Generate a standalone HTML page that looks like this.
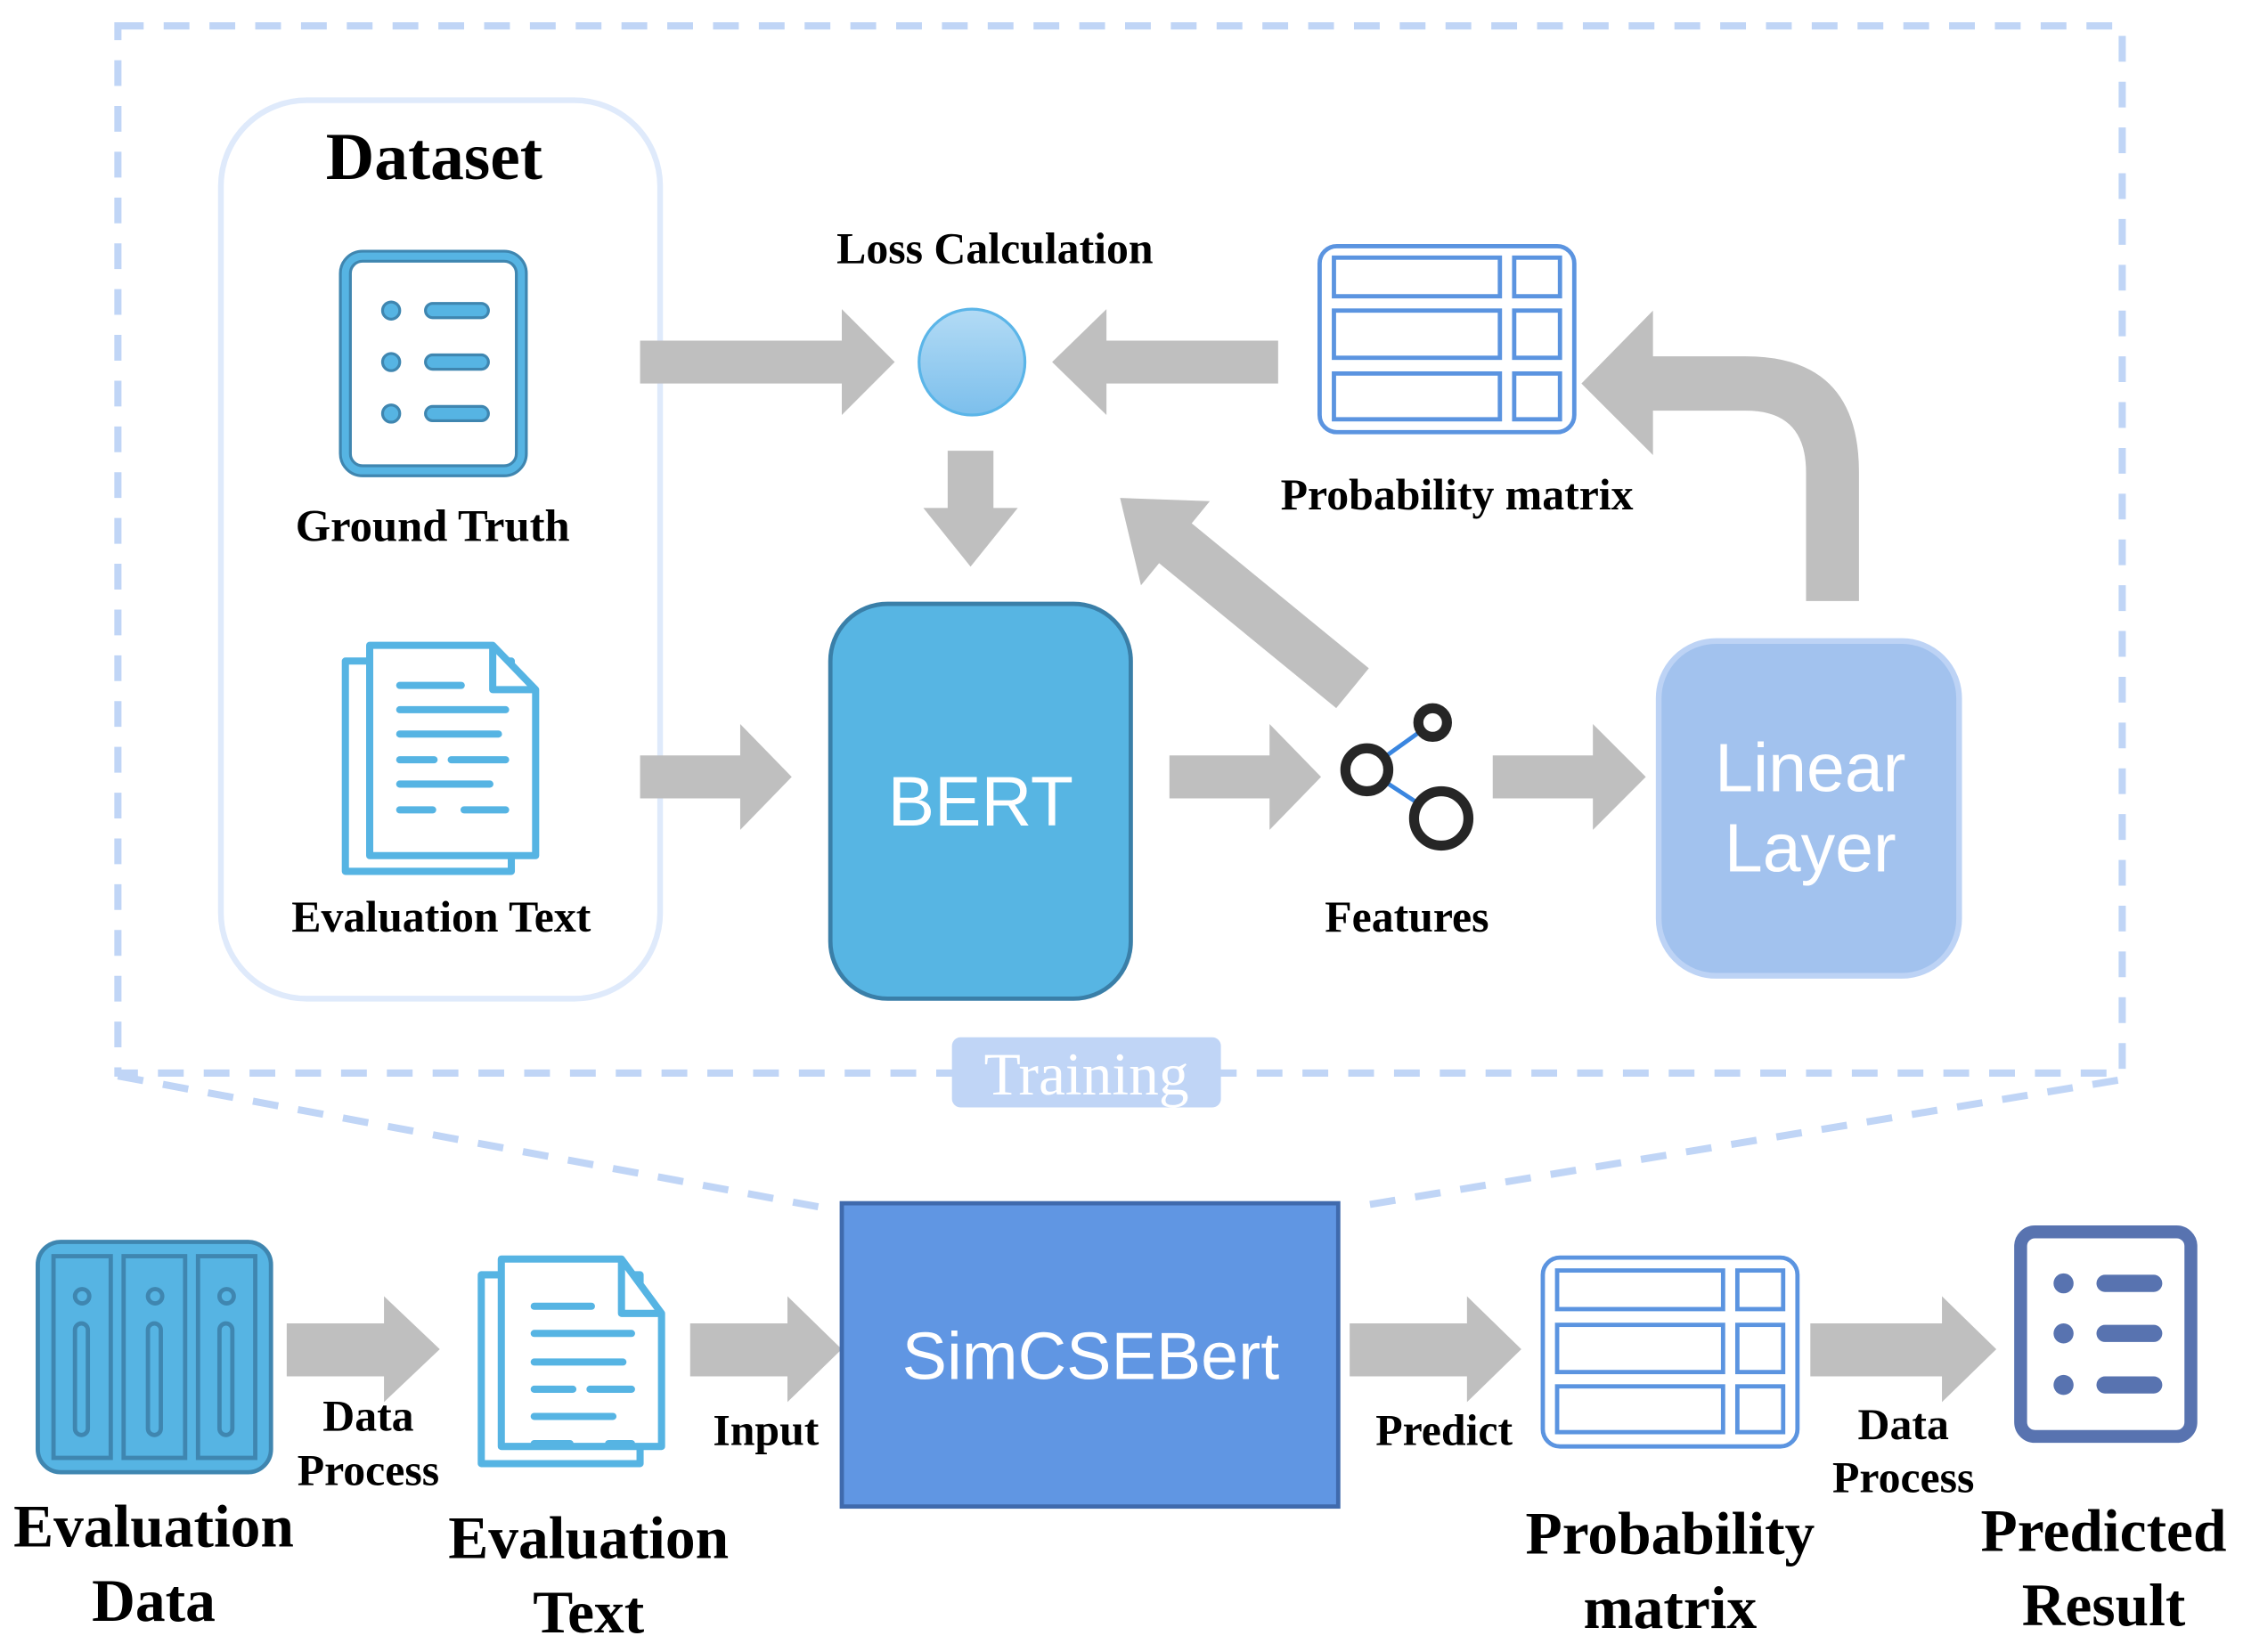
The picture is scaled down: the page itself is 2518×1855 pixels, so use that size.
<!DOCTYPE html>
<html><head><meta charset="utf-8"><style>
html,body{margin:0;padding:0;background:#fff;}
svg{display:block;}
.t{font-family:"Liberation Serif",serif;font-weight:bold;fill:#000;text-anchor:middle;}
.s{font-family:"Liberation Sans",sans-serif;fill:#fff;text-anchor:middle;}
</style></head><body>
<svg width="2518" height="1855" viewBox="0 0 1560 1149" preserveAspectRatio="none" xmlns="http://www.w3.org/2000/svg">
<defs>
<linearGradient id="g" x1="0" y1="0" x2="0" y2="1"><stop offset="0" stop-color="#b3dbf5"/><stop offset="1" stop-color="#7cbfec"/></linearGradient>
</defs>
<g transform="translate(82,18) scale(0.995) translate(-82,-18)">
<g fill="none" stroke="#c0d5f6" stroke-width="5" stroke-dasharray="18 14">
<rect x="82" y="18" width="1401" height="732"/>
<line x1="82" y1="752" x2="585" y2="846"/>
<line x1="1480" y1="755" x2="950" y2="843"/>
</g>
<rect x="154" y="70" width="307" height="628" rx="60" fill="#fff" stroke="#dfeafb" stroke-width="4"/>
<text class="t" x="303" y="125" font-size="47">Dataset</text>
<rect x="241" y="179" width="123" height="150" rx="12" fill="#fff" stroke="#3f86b0" stroke-width="9"/>
<rect x="241" y="179" width="123" height="150" rx="12" fill="none" stroke="#56b4e3" stroke-width="5"/>
<g fill="#56b4e3" stroke="#3f86b0" stroke-width="2">
<circle cx="273" cy="217" r="6"/><circle cx="273" cy="253" r="6"/><circle cx="273" cy="289" r="6"/>
<rect x="297" y="212" width="44" height="10" rx="5"/><rect x="297" y="248" width="44" height="10" rx="5"/><rect x="297" y="284" width="44" height="10" rx="5"/>
</g>
<text class="t" x="302" y="378" font-size="31.5">Ground Truth</text>
<g fill="#fff" stroke="#56b4e3" stroke-width="5" stroke-linejoin="round">
<rect x="241" y="462" width="116" height="147"/>
<path d="M258 451 H344 L374 482 V598 H258 Z"/>
<path d="M344 451 V482 H374" fill="none"/>
</g>
<g stroke="#56b4e3" stroke-width="5" stroke-linecap="round">
<line x1="279" y1="479" x2="322" y2="479"/><line x1="279" y1="496" x2="353" y2="496"/><line x1="279" y1="513" x2="348" y2="513"/>
<line x1="279" y1="531" x2="303" y2="531"/><line x1="315" y1="531" x2="353" y2="531"/><line x1="279" y1="548" x2="342" y2="548"/>
<line x1="279" y1="566" x2="302" y2="566"/><line x1="324" y1="566" x2="353" y2="566"/>
</g>
<text class="t" x="308" y="651" font-size="31">Evaluation Text</text>
<g fill="#bfbfbf">
<polygon points="447,238 588,238 588,216 625,253 588,290 588,268 447,268"/>
<polygon points="893,238 773,238 773,216 735,253 773,290 773,268 893,268"/>
<polygon points="662,315 694,315 694,355 711,355 678,396 645,355 662,355"/>
<polygon points="447,528 517,528 517,506 553,543 517,580 517,558 447,558"/>
<polygon points="817,528 887,528 887,506 923,543 887,580 887,558 817,558"/>
<polygon points="1043,528 1113,528 1113,506 1150,543 1113,580 1113,558 1043,558"/>
<g transform="translate(945,481) rotate(219.3)">
<polygon points="0,-18 160,-18 160,-38 210,0 160,38 160,18 0,18"/>
</g>
<path d="M1262 420 V330 Q1262 287 1220 287 H1150 V249 H1220 Q1299 249 1299 330 V420 Z"/>
<polygon points="1155,217 1105,268 1155,318"/>
</g>
<circle cx="679" cy="253" r="37" fill="url(#g)" stroke="#5bb5e8" stroke-width="2"/>
<text class="t" x="695" y="184" font-size="31">Loss Calculation</text>
<rect x="580" y="422" width="210" height="276" rx="40" fill="#57b5e3" stroke="#3a7fa8" stroke-width="3"/>
<text class="s" x="685" y="577" font-size="49">BERT</text>
<g stroke="#3a86e0" stroke-width="3"><line x1="955" y1="538" x2="1001" y2="505"/><line x1="955" y1="538" x2="1007" y2="572"/></g>
<g fill="#fff" stroke="#262626" stroke-width="7"><circle cx="955" cy="538" r="15"/><circle cx="1001" cy="505" r="10"/><circle cx="1007" cy="572" r="19"/></g>
<text class="t" x="983" y="651" font-size="31">Features</text>
<rect x="1159" y="448" width="210" height="234" rx="40" fill="#a2c2ee" stroke="#bdd3f5" stroke-width="4"/>
<text class="s" x="1265" y="553" font-size="48">Linear</text>
<text class="s" x="1265" y="609" font-size="48">Layer</text>
<g fill="none" stroke="#5b94e0" stroke-width="3">
<rect x="922" y="172" width="178" height="130" rx="12"/>
<rect x="932" y="180" width="116" height="27"/><rect x="1058" y="180" width="32" height="27"/>
<rect x="932" y="217" width="116" height="33"/><rect x="1058" y="217" width="32" height="33"/>
<rect x="932" y="261" width="116" height="32"/><rect x="1058" y="261" width="32" height="32"/>
</g>
<text class="t" x="1018" y="356" font-size="31">Probability matrix</text>
<rect x="665" y="725" width="188" height="49" rx="6" fill="#c0d5f6"/>
<text x="759" y="765" font-size="42" fill="#fff" text-anchor="middle" font-family="Liberation Serif,serif">Training</text>
<rect x="26" y="868" width="163" height="161" rx="16" fill="#56b4e3" stroke="#3f86b0" stroke-width="3"/>
<g fill="none" stroke="#3f86b0" stroke-width="3">
<rect x="37" y="878" width="40" height="141"/><rect x="86" y="878" width="43" height="141"/><rect x="138" y="878" width="40" height="141"/>
<circle cx="57" cy="906" r="5"/><circle cx="108" cy="906" r="5"/><circle cx="158" cy="906" r="5"/>
<rect x="52" y="925" width="9" height="78" rx="4.5"/><rect x="103" y="925" width="9" height="78" rx="4.5"/><rect x="153" y="925" width="9" height="78" rx="4.5"/>
</g>
<g fill="#bfbfbf">
<polygon points="200,925 268,925 268,906 307,943 268,980 268,962 200,962"/>
<polygon points="482,925 550,925 550,906 588,943 550,980 550,962 482,962"/>
<polygon points="943,925 1025,925 1025,906 1063,943 1025,980 1025,962 943,962"/>
<polygon points="1265,925 1357,925 1357,906 1395,943 1357,980 1357,962 1265,962"/>
</g>
<text class="t" x="257" y="1000" font-size="31">Data</text>
<text class="t" x="257" y="1038" font-size="31">Process</text>
<g fill="#fff" stroke="#56b4e3" stroke-width="5" stroke-linejoin="round">
<rect x="336" y="891" width="111" height="132"/>
<path d="M350 880 H434 L462 918 V1011 H350 Z"/>
<path d="M434 880 V918 H462" fill="none"/>
</g>
<g stroke="#56b4e3" stroke-width="5" stroke-linecap="round">
<line x1="373" y1="913" x2="413" y2="913"/><line x1="373" y1="932" x2="441" y2="932"/><line x1="373" y1="952" x2="435" y2="952"/>
<line x1="373" y1="971" x2="400" y2="971"/><line x1="412" y1="971" x2="441" y2="971"/><line x1="373" y1="990" x2="428" y2="990"/>
<line x1="373" y1="1009" x2="398" y2="1009"/><line x1="425" y1="1009" x2="441" y2="1009"/>
</g>
<text class="t" x="107" y="1081" font-size="42">Evaluation</text>
<text class="t" x="107" y="1133" font-size="42">Data</text>
<text class="t" x="411" y="1089" font-size="42">Evaluation</text>
<text class="t" x="411" y="1141" font-size="42">Text</text>
<text class="t" x="535" y="1010" font-size="31">Input</text>
<rect x="588" y="841" width="347" height="212" fill="#6096e3" stroke="#3f6aad" stroke-width="3"/>
<text class="s" x="762" y="964" font-size="47">SimCSEBert</text>
<text class="t" x="1009" y="1010" font-size="31">Predict</text>
<g fill="none" stroke="#5b94e0" stroke-width="3">
<rect x="1078" y="879" width="178" height="132" rx="12"/>
<rect x="1088" y="888" width="116" height="27"/><rect x="1214" y="888" width="32" height="27"/>
<rect x="1088" y="926" width="116" height="33"/><rect x="1214" y="926" width="32" height="33"/>
<rect x="1088" y="969" width="116" height="32"/><rect x="1214" y="969" width="32" height="32"/>
</g>
<text class="t" x="1330" y="1006" font-size="31">Data</text>
<text class="t" x="1330" y="1043" font-size="31">Process</text>
<rect x="1412" y="861" width="119" height="143" rx="10" fill="#fff" stroke="#5873b0" stroke-width="9"/>
<g fill="#5873b0">
<circle cx="1442" cy="897" r="7"/><circle cx="1442" cy="932" r="7"/><circle cx="1442" cy="968" r="7"/>
<rect x="1465" y="891" width="46" height="12" rx="6"/><rect x="1465" y="926" width="46" height="12" rx="6"/><rect x="1465" y="962" width="46" height="12" rx="6"/>
</g>
<text class="t" x="1167" y="1086" font-size="42">Probability</text>
<text class="t" x="1167" y="1138" font-size="42">matrix</text>
<text class="t" x="1470" y="1084" font-size="42">Predicted</text>
<text class="t" x="1470" y="1136" font-size="42">Result</text>
</g>
</svg>
</body></html>
